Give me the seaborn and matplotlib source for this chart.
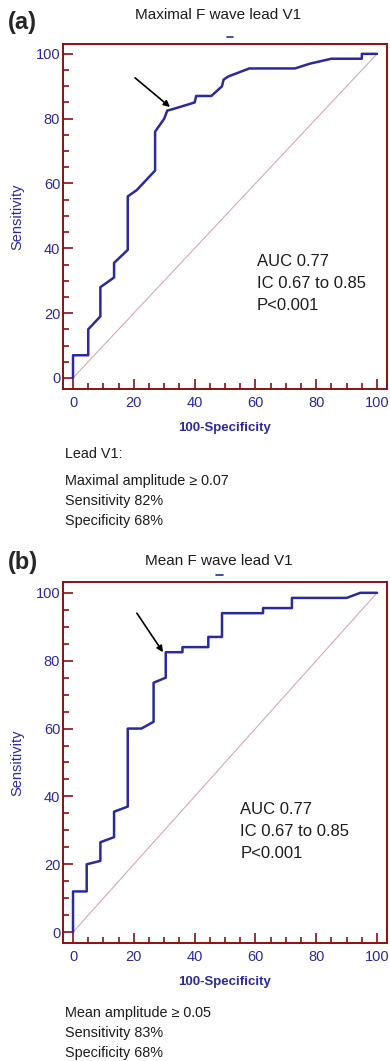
import matplotlib
matplotlib.use('Agg')
import matplotlib.pyplot as plt
from matplotlib.lines import Line2D
from matplotlib.ticker import MultipleLocator
import seaborn as sns

# ROC curve (a): maximal F wave amplitude, lead V1
fpr_a = [0, 0, 5, 5, 9, 9, 13.5, 13.5, 18, 18, 21, 25, 27, 27, 30, 31, 33, 40,
         40.5, 45.5, 49, 49.5, 51, 58, 73, 78, 85, 95, 95, 100]
tpr_a = [0, 7, 7, 15, 19, 28, 31, 35.5, 39.5, 56, 58, 62, 64, 76, 80, 82.5, 83, 85,
         87, 87, 90, 92, 93, 95.5, 95.5, 97, 98.5, 98.5, 100, 100]

# ROC curve (b): mean F wave amplitude, lead V1
fpr_b = [0, 0, 4.5, 4.5, 9, 9, 13.5, 13.5, 18, 18, 22.5, 26.5, 26.5, 30.5, 30.5,
         36, 36, 44.5, 44.5, 49, 49, 62.5, 62.5, 72, 72, 90, 94.5, 100]
tpr_b = [0, 12, 12, 20, 21, 26.5, 28, 35.5, 37, 60, 60, 62, 73.5, 75, 82.5,
         82.5, 84, 84, 87, 87, 94, 94, 95.5, 95.5, 98.5, 98.5, 100, 100]

titles = ['Maximal F wave lead V1', 'Mean F wave lead V1']
panel_tags = ['(a)', '(b)']
stats_text = 'AUC 0.77\nIC 0.67 to 0.85\nP<0.001'
arrow_a = [(20.4, 92.6), (31.9, 83.6)]
arrow_b = [(21, 94), (29.6, 82.5)]

sns.set_style('white')
plt.rcParams['font.family'] = ['Liberation Sans', 'DejaVu Sans']

blue = '#2a2a9c'
red = '#8b1010'
dark = '#1c1c1c'

fig = plt.figure(figsize=(3.9, 10.61), dpi=100)
ax_a = fig.add_axes([0.1615, 0.6334, 0.831, 0.325])
ax_b = fig.add_axes([0.1615, 0.1112, 0.831, 0.3403])

panels = [
    (ax_a, fpr_a, tpr_a, arrow_a, (-3.3, 103.3), (-3.4, 103), (60.5, 38.3)),
    (ax_b, fpr_b, tpr_b, arrow_b, (-3.3, 103.3), (-3.2, 103.2), (55, 38.5)),
]

for ax, fx, ty, arr, xl, yl, txy in panels:
    ax.plot([0, 100], [0, 100], color='#d9a6b0', lw=0.8)
    sns.lineplot(x=fx, y=ty, sort=False, estimator=None, color=blue, lw=1.8, ax=ax)
    ax.annotate('', xy=arr[1], xytext=arr[0],
                arrowprops=dict(arrowstyle='-|>', color='black', lw=1.2,
                                mutation_scale=9, shrinkA=0, shrinkB=0))
    ax.text(txy[0], txy[1], stats_text, fontsize=12, va='top', ha='left',
            linespacing=1.6, color=dark)
    ax.set_xlim(*xl)
    ax.set_ylim(*yl)
    ax.xaxis.set_major_locator(MultipleLocator(20))
    ax.xaxis.set_minor_locator(MultipleLocator(5))
    ax.yaxis.set_major_locator(MultipleLocator(20))
    ax.yaxis.set_minor_locator(MultipleLocator(5))
    ax.tick_params(which='major', direction='in', length=7.5, width=1.2, color=red,
                   labelcolor=blue, labelsize=10.5, bottom=True, left=True)
    ax.tick_params(which='minor', direction='in', length=4.5, width=1.2, color=red,
                   bottom=True, left=True)
    ax.tick_params(axis='x', pad=5)
    ax.tick_params(axis='y', pad=2)
    for s in ax.spines.values():
        s.set_color(red)
        s.set_linewidth(1.4)
    ax.set_xlabel('100-Specificity', color=blue, fontsize=9.5, fontweight='bold',
                  labelpad=9)
    ax.set_ylabel('Sensitivity', color=blue, fontsize=10.5, labelpad=8)

# titles, panel tags and little title marks
fig.text(0.56, 0.9854, titles[0], ha='center', va='center', fontsize=11, color=dark)
fig.text(0.56, 0.471, titles[1], ha='center', va='center', fontsize=11, color=dark)
fig.text(0.02, 0.979, panel_tags[0], ha='left', va='center', fontsize=17, fontweight='bold')
fig.text(0.02, 0.470, panel_tags[1], ha='left', va='center', fontsize=17, fontweight='bold')
fig.add_artist(Line2D([0.582, 0.598], [0.965, 0.965], color=blue, lw=1.2))
fig.add_artist(Line2D([0.554, 0.572], [0.458, 0.458], color=blue, lw=1.2))

# threshold notes below each panel
fig.text(0.167, 1 - 454 / 1061, 'Lead V1:', fontsize=10.4, va='center', color=dark)
fig.text(0.167, 1 - 474 / 1061, 'Maximal amplitude \u2265 0.07\nSensitivity 82%\nSpecificity 68%',
         fontsize=10.4, va='top', linespacing=1.55, color=dark)
fig.text(0.167, 1 - 1006 / 1061, 'Mean amplitude \u2265 0.05\nSensitivity 83%\nSpecificity 68%',
         fontsize=10.4, va='top', linespacing=1.55, color=dark)

fig.savefig('out.png', dpi=100)
